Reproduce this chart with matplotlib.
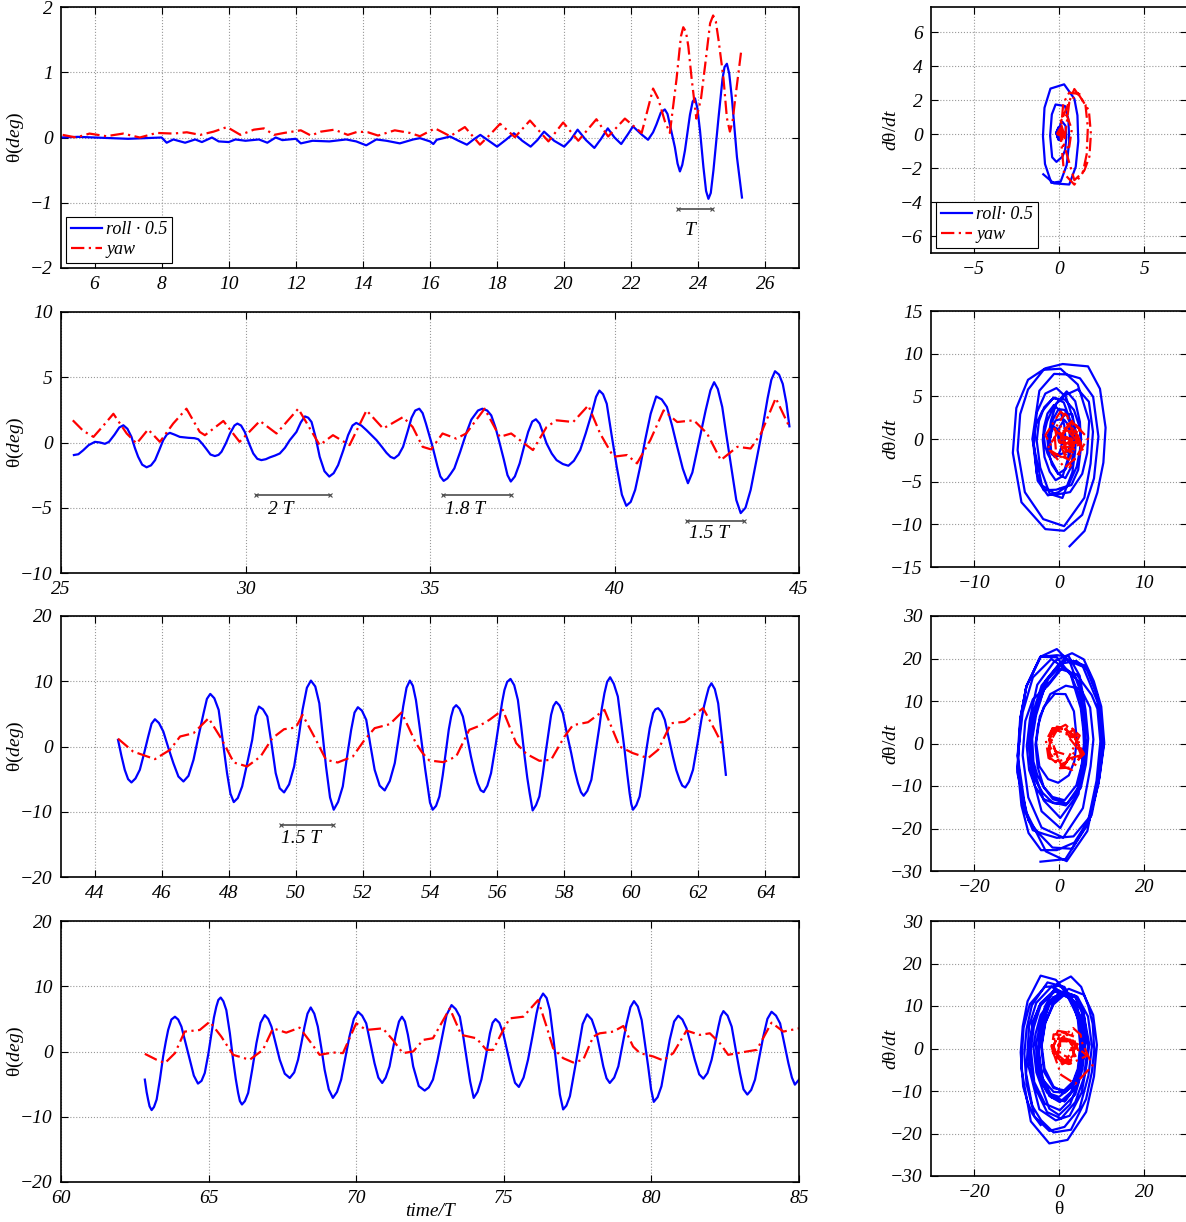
import numpy as np
import matplotlib
matplotlib.use('Agg')
import matplotlib.pyplot as plt

plt.rcParams['font.family'] = 'Liberation Serif'
plt.rcParams['font.style'] = 'italic'
plt.rcParams['font.size'] = 13
plt.rcParams['mathtext.fontset'] = 'custom'
plt.rcParams['mathtext.rm'] = 'Liberation Serif:style=normal'
plt.rcParams['mathtext.it'] = 'Liberation Serif:italic'
plt.rcParams['xtick.direction'] = 'in'
plt.rcParams['ytick.direction'] = 'in'
plt.rcParams['xtick.top'] = True
plt.rcParams['ytick.right'] = True

# ---- values: (time/T, theta in deg) ----
roll_1 = [(5.0, 0.0), (5.5, 0.01), (6.0, 0.0), (6.5, -0.01), (7.0, -0.02), (7.5, -0.01),
          (8.0, 0.0), (8.15, -0.08), (8.35, -0.03), (8.7, -0.08), (9.0, -0.03), (9.2, -0.07),
          (9.5, 0.0), (9.7, -0.06), (10.0, -0.07), (10.2, -0.03), (10.5, -0.05), (10.9, -0.03),
          (11.15, -0.08), (11.4, 0.0), (11.6, -0.04), (12.0, -0.02), (12.15, -0.09), (12.5, -0.05),
          (13.0, -0.06), (13.5, -0.03), (13.8, -0.06), (14.1, -0.12), (14.4, -0.03), (14.7, -0.05),
          (15.1, -0.09), (15.5, -0.03), (15.7, -0.01), (16.0, -0.06), (16.1, -0.1), (16.2, -0.035),
          (16.6, 0.015), (16.85, -0.05), (17.1, -0.11), (17.3, -0.03), (17.5, 0.04), (17.75, -0.05),
          (18.0, -0.14), (18.25, -0.04), (18.5, 0.065), (18.75, -0.05), (19.0, -0.14), (19.2, -0.04),
          (19.4, 0.09), (19.7, -0.05), (20.0, -0.14), (20.2, -0.03), (20.4, 0.12), (20.65, -0.04),
          (20.9, -0.16), (21.1, -0.02), (21.3, 0.14), (21.5, 0.0), (21.7, -0.1), (21.9, 0.05),
          (22.05, 0.17), (22.3, 0.05), (22.5, -0.035), (22.65, 0.08), (22.75, 0.2), (22.88, 0.38),
          (23.0, 0.43), (23.08, 0.36), (23.15, 0.2), (23.3, -0.15), (23.38, -0.4), (23.45, -0.52),
          (23.52, -0.42), (23.6, -0.2), (23.75, 0.35), (23.83, 0.55), (23.9, 0.6), (23.97, 0.45),
          (24.05, 0.1), (24.15, -0.45), (24.23, -0.82), (24.3, -0.94), (24.37, -0.85), (24.45, -0.5),
          (24.6, 0.3), (24.72, 0.9), (24.78, 1.08), (24.85, 1.13), (24.92, 0.98), (25.0, 0.6),
          (25.15, -0.3), (25.3, -0.92)]
yaw_1 = [(5.05, 0.04), (5.45, 0.0), (5.85, 0.06), (6.35, 0.02), (6.85, 0.06), (7.35, 0.0),
         (7.85, 0.07), (8.35, 0.06), (8.75, 0.08), (9.15, 0.04), (9.55, 0.09), (9.95, 0.16),
         (10.35, 0.04), (10.75, 0.12), (11.05, 0.14), (11.35, 0.04), (11.65, 0.07), (12.15, 0.11),
         (12.45, 0.03), (12.75, 0.09), (13.15, 0.12), (13.55, 0.04), (13.85, 0.09), (14.15, 0.08),
         (14.45, 0.03), (14.95, 0.11), (15.4, 0.07), (15.7, 0.02), (16.15, 0.14), (16.6, 0.02),
         (17.04, 0.16), (17.49, -0.11), (17.8, 0.05), (18.09, 0.21), (18.53, 0.005), (18.98, 0.26),
         (19.53, -0.06), (19.97, 0.23), (20.42, -0.05), (20.96, 0.28), (21.31, 0.015), (21.81, 0.29),
         (22.31, 0.07), (22.5, 0.45), (22.65, 0.75), (22.8, 0.6), (23.0, 0.25), (23.15, 0.07),
         (23.35, 0.9), (23.48, 1.55), (23.55, 1.69), (23.63, 1.62), (23.7, 1.4), (23.8, 0.9),
         (23.94, 0.29), (24.08, 0.6), (24.2, 1.1), (24.35, 1.75), (24.44, 1.87), (24.52, 1.78),
         (24.6, 1.5), (24.75, 0.9), (24.85, 0.3), (24.94, 0.09), (25.02, 0.25), (25.1, 0.6),
         (25.28, 1.34)]

roll_2 = [(25.35, -0.96), (25.47, -0.9), (25.6, -0.6), (25.75, -0.2), (25.92, 0.05), (26.06, 0.0),
          (26.19, -0.1), (26.3, 0.05), (26.45, 0.6), (26.58, 1.15), (26.69, 1.32), (26.8, 1.05),
          (26.91, 0.43), (27.0, -0.4), (27.09, -1.09), (27.2, -1.7), (27.32, -1.9), (27.44, -1.75),
          (27.55, -1.35), (27.66, -0.6), (27.77, 0.18), (27.87, 0.62), (27.95, 0.74), (28.08, 0.6),
          (28.22, 0.43), (28.45, 0.36), (28.62, 0.33), (28.72, 0.25), (28.83, -0.1), (28.94, -0.5),
          (29.05, -0.92), (29.17, -1.04), (29.27, -0.95), (29.35, -0.71), (29.47, -0.05), (29.58, 0.69),
          (29.7, 1.3), (29.78, 1.45), (29.88, 1.3), (29.98, 0.81), (30.1, -0.1), (30.21, -0.84),
          (30.32, -1.25), (30.43, -1.35), (30.55, -1.28), (30.66, -1.14), (30.8, -1.0), (30.93, -0.84),
          (31.07, -0.4), (31.2, 0.18), (31.38, 0.81), (31.5, 1.55), (31.61, 2.0), (31.7, 1.9),
          (31.79, 1.57), (31.9, 0.4), (32.01, -1.09), (32.14, -2.2), (32.27, -2.61), (32.39, -2.35),
          (32.51, -1.73), (32.65, -0.6), (32.78, 0.56), (32.9, 1.3), (33.0, 1.5), (33.14, 1.3),
          (33.28, 0.94), (33.42, 0.55), (33.55, 0.18), (33.7, -0.35), (33.82, -0.79), (33.93, -1.1),
          (34.03, -1.22), (34.15, -0.95), (34.27, -0.33), (34.4, 0.9), (34.5, 1.9), (34.6, 2.45),
          (34.71, 2.59), (34.8, 2.25), (34.89, 1.45), (34.98, 0.55), (35.07, -0.33), (35.2, -1.8),
          (35.28, -2.6), (35.37, -2.94), (35.47, -2.75), (35.56, -2.4), (35.66, -1.98), (35.82, -0.7),
          (35.98, 0.69), (36.12, 1.75), (36.3, 2.45), (36.42, 2.59), (36.55, 2.45), (36.66, 2.08),
          (36.78, 1.1), (36.89, -0.08), (37.0, -1.3), (37.1, -2.5), (37.19, -2.99), (37.3, -2.6),
          (37.43, -1.6), (37.55, -0.3), (37.66, 0.81), (37.77, 1.6), (37.87, 1.78), (37.97, 1.45),
          (38.06, 0.75), (38.16, -0.08), (38.3, -0.85), (38.43, -1.35), (38.6, -1.65), (38.75, -1.78),
          (38.9, -1.4), (39.07, -0.58), (39.22, 0.7), (39.38, 2.21), (39.5, 3.5), (39.59, 3.98),
          (39.69, 3.7), (39.79, 2.97), (39.92, 0.6), (40.06, -1.85), (40.2, -4.0), (40.32, -4.85),
          (40.44, -4.55), (40.56, -3.63), (40.7, -1.8), (40.83, 0.18), (40.98, 2.2), (41.13, 3.53),
          (41.28, 3.3), (41.42, 2.72), (41.56, 1.3), (41.7, -0.33), (41.85, -2.0), (41.99, -3.12),
          (42.11, -2.3), (42.24, -0.58), (42.35, 0.9), (42.47, 2.46), (42.6, 4.0), (42.7, 4.62),
          (42.8, 4.1), (42.92, 2.72), (43.03, 0.6), (43.15, -1.6), (43.3, -4.4), (43.42, -5.41),
          (43.55, -5.0), (43.69, -3.63), (43.83, -1.6), (43.97, 0.43), (44.15, 3.4), (44.25, 4.8),
          (44.35, 5.46), (44.46, 5.2), (44.56, 4.49), (44.66, 3.0), (44.74, 1.24)]
yaw_2 = [(25.32, 1.7), (25.6, 0.9), (25.88, 0.43), (26.15, 1.3), (26.42, 2.2), (26.78, 0.69),
         (27.05, -0.08), (27.36, 1.0), (27.68, 0.05), (28.04, 1.45), (28.4, 2.59), (28.76, 0.81),
         (28.9, 0.56), (29.4, 1.65), (29.84, 0.05), (30.39, 1.65), (30.84, 0.69), (31.43, 2.59),
         (32.01, -0.2), (32.37, 0.56), (32.82, -0.2), (33.28, 2.46), (33.73, 1.07), (34.27, 1.95),
         (34.53, 1.19), (34.8, -0.33), (35.03, -0.53), (35.34, 0.69), (35.71, 0.3), (35.98, 0.69),
         (36.48, 2.59), (36.89, 0.43), (37.2, 0.69), (37.79, -0.58), (38.16, 1.19), (38.43, 1.7),
         (38.88, 1.57), (39.29, 2.84), (39.61, 0.69), (39.97, -1.09), (40.34, -0.96), (40.61, -1.6),
         (40.97, 0.18), (41.33, 2.46), (41.7, 1.57), (42.15, 1.7), (42.51, 0.69), (42.88, -1.35),
         (43.33, -0.33), (43.69, -0.46), (43.97, 0.69), (44.37, 3.4), (44.74, 1.19)]

roll_3 = [(44.7, 1.02), (44.8, -1.4), (44.9, -3.57), (45.0, -5.0), (45.1, -5.51), (45.22, -4.9),
          (45.35, -3.57), (45.48, -1.0), (45.6, 1.53), (45.7, 3.5), (45.8, 4.18), (45.92, 3.6),
          (46.05, 2.3), (46.2, -0.2), (46.35, -2.55), (46.5, -4.6), (46.65, -5.36), (46.8, -4.5),
          (46.95, -2.04), (47.1, 1.6), (47.25, 5.1), (47.35, 7.3), (47.45, 8.06), (47.57, 7.4),
          (47.7, 5.61), (47.82, 1.0), (47.95, -4.08), (48.05, -7.2), (48.15, -8.52), (48.27, -7.9),
          (48.4, -6.12), (48.55, -2.6), (48.7, 1.02), (48.8, 4.7), (48.9, 6.12), (49.02, 5.7),
          (49.15, 4.59), (49.28, 0.3), (49.4, -4.08), (49.52, -6.4), (49.65, -7.04), (49.8, -5.8),
          (49.95, -3.06), (50.08, 1.2), (50.2, 5.61), (50.33, 9.0), (50.45, 10.1), (50.58, 9.2),
          (50.7, 6.63), (50.8, 1.8), (50.9, -3.06), (51.02, -7.8), (51.13, -9.69), (51.26, -8.5),
          (51.4, -6.12), (51.52, -1.8), (51.65, 2.55), (51.75, 5.2), (51.85, 6.02), (51.97, 5.5),
          (52.1, 4.08), (52.22, 0.3), (52.35, -3.57), (52.5, -6.0), (52.65, -6.73), (52.8, -5.3),
          (52.95, -2.55), (53.08, 1.8), (53.2, 6.12), (53.3, 9.0), (53.4, 10.1), (53.49, 9.3),
          (53.58, 7.14), (53.68, 3.4), (53.78, -0.51), (53.86, -3.6), (53.93, -6.12), (54.0, -8.6),
          (54.08, -9.69), (54.18, -9.1), (54.28, -7.65), (54.38, -4.4), (54.48, -0.51), (54.56, 2.6),
          (54.63, 4.59), (54.7, 5.9), (54.78, 6.33), (54.88, 5.8), (54.98, 4.59), (55.1, 1.6),
          (55.22, -1.53), (55.32, -3.8), (55.42, -5.61), (55.51, -6.7), (55.6, -6.99), (55.71, -6.0),
          (55.82, -4.08), (55.95, 0.0), (56.07, 4.08), (56.15, 6.8), (56.22, 8.67), (56.3, 9.9),
          (56.4, 10.36), (56.51, 9.4), (56.62, 7.14), (56.72, 3.0), (56.82, -1.53), (56.9, -4.8),
          (56.97, -7.14), (57.06, -9.8), (57.16, -9.0), (57.26, -7.65), (57.36, -4.3), (57.46, -0.51),
          (57.54, 2.3), (57.61, 4.85), (57.68, 6.2), (57.76, 6.84), (57.86, 6.3), (57.96, 5.1),
          (58.08, 2.0), (58.21, -1.02), (58.31, -3.6), (58.41, -5.61), (58.5, -7.0), (58.58, -7.55),
          (58.69, -6.8), (58.81, -5.1), (58.93, -1.0), (59.05, 3.06), (59.12, 5.8), (59.2, 8.16),
          (59.28, 9.9), (59.37, 10.61), (59.48, 9.6), (59.6, 7.65), (59.7, 3.6), (59.8, -0.51),
          (59.88, -4.2), (59.95, -7.14), (60.0, -8.8), (60.05, -9.69), (60.15, -9.0), (60.25, -7.65),
          (60.35, -4.3), (60.45, -0.51), (60.55, 2.8), (60.65, 5.1), (60.72, 5.7), (60.8, 5.87),
          (60.9, 5.3), (61.0, 4.08), (61.12, 1.3), (61.24, -1.53), (61.34, -3.6), (61.44, -5.1),
          (61.52, -6.0), (61.61, -6.28), (61.72, -5.4), (61.84, -3.57), (61.97, 0.3), (62.09, 4.08),
          (62.17, 6.2), (62.24, 7.65), (62.31, 9.0), (62.39, 9.69), (62.49, 8.8), (62.59, 6.63),
          (62.7, 1.5), (62.82, -4.34)]
yaw_3 = [(44.7, 1.2), (45.15, -0.77), (45.8, -1.94), (46.25, -0.51), (46.55, 1.53), (46.95, 2.04),
         (47.4, 4.34), (47.8, 1.02), (48.15, -2.45), (48.55, -3.06), (48.95, -1.53), (49.3, 1.28),
         (49.65, 2.65), (50.0, 2.91), (50.2, 4.85), (50.6, 1.02), (50.9, -2.04), (51.25, -2.45),
         (51.7, -1.53), (52.05, 1.02), (52.35, 2.81), (52.8, 3.42), (53.15, 5.2), (53.35, 3.06),
         (53.58, 0.5), (53.78, -1.02), (53.98, -2.14), (54.4, -2.4), (54.78, -1.53), (55.17, 2.55),
         (55.47, 3.16), (55.77, 4.08), (56.17, 5.61), (56.57, 0.51), (56.87, -1.12), (57.26, -2.19),
         (57.61, -2.04), (58.01, 1.53), (58.26, 3.27), (58.71, 3.72), (59.2, 5.61), (59.65, 0.0),
         (60.05, -1.02), (60.5, -1.79), (60.8, -0.51), (61.19, 3.57), (61.59, 3.78), (62.14, 5.87),
         (62.49, 2.55), (62.74, 0.0)]

roll_4 = [(62.84, -4.31), (62.9, -6.2), (62.95, -7.36), (63.0, -8.4), (63.07, -8.98), (63.15, -8.5),
          (63.24, -7.36), (63.35, -4.3), (63.46, -0.76), (63.55, 1.5), (63.63, 3.3), (63.74, 4.9),
          (63.86, 5.33), (63.97, 4.9), (64.08, 3.81), (64.22, 1.3), (64.36, -1.27), (64.5, -3.7),
          (64.64, -4.92), (64.76, -4.5), (64.87, -3.3), (64.99, -0.4), (65.1, 2.79), (65.18, 5.2),
          (65.26, 6.85), (65.33, 7.9), (65.41, 8.27), (65.5, 7.7), (65.6, 6.35), (65.72, 2.8),
          (65.83, -1.27), (65.92, -4.2), (66.0, -6.35), (66.06, -7.6), (66.13, -8.12), (66.23, -7.6),
          (66.34, -6.35), (66.48, -2.7), (66.62, 1.27), (66.76, 4.4), (66.9, 5.58), (67.02, 5.0),
          (67.13, 3.81), (67.27, 1.3), (67.41, -1.27), (67.58, -3.4), (67.75, -4.06), (67.9, -3.2),
          (68.03, -1.27), (68.14, 1.2), (68.25, 3.81), (68.35, 5.8), (68.46, 6.75), (68.58, 5.8),
          (68.7, 3.81), (68.82, 0.5), (68.93, -2.79), (69.07, -5.8), (69.21, -7.11), (69.35, -6.2),
          (69.49, -4.31), (69.63, -1.0), (69.77, 2.28), (69.92, 5.0), (70.06, 6.09), (70.2, 5.5),
          (70.34, 4.31), (70.48, 1.3), (70.62, -1.78), (70.75, -4.0), (70.88, -4.82), (71.0, -4.0),
          (71.13, -2.28), (71.24, 0.3), (71.35, 2.79), (71.45, 4.6), (71.55, 5.33), (71.65, 4.6),
          (71.75, 2.6), (71.85, 0.0), (71.93, -2.28), (72.12, -5.3), (72.32, -5.99), (72.46, -5.5),
          (72.6, -4.31), (72.75, -1.4), (72.89, 1.78), (73.06, 5.6), (73.23, 7.11), (73.37, 6.5),
          (73.51, 5.33), (73.62, 2.5), (73.73, -0.76), (73.86, -4.6), (73.98, -7.11), (74.11, -6.2),
          (74.24, -4.31), (74.39, -0.8), (74.53, 2.79), (74.62, 4.4), (74.72, 4.97), (74.85, 4.4),
          (74.98, 2.79), (75.12, 0.0), (75.26, -2.79), (75.38, -4.8), (75.51, -5.43), (75.67, -4.0),
          (75.82, -1.27), (75.97, 2.3), (76.11, 5.84), (76.22, 8.0), (76.33, 8.88), (76.45, 8.2),
          (76.56, 6.35), (76.68, 2.0), (76.79, -2.28), (76.9, -6.6), (77.01, -8.88), (77.12, -8.3),
          (77.24, -6.85), (77.38, -3.3), (77.52, 0.25), (77.67, 4.2), (77.82, 5.69), (77.98, 4.9),
          (78.14, 2.79), (78.26, 0.2), (78.37, -2.28), (78.48, -4.1), (78.59, -4.82), (78.74, -4.0),
          (78.88, -2.28), (79.02, 1.0), (79.16, 4.31), (79.29, 6.8), (79.41, 7.72), (79.54, 6.9),
          (79.67, 4.82), (79.78, 1.3), (79.89, -2.28), (79.99, -5.8), (80.08, -7.72), (80.21, -7.0),
          (80.34, -5.33), (80.48, -1.8), (80.62, 1.78), (80.77, 4.6), (80.91, 5.48), (81.05, 4.9),
          (81.19, 3.55), (81.33, 1.2), (81.47, -1.27), (81.62, -3.5), (81.76, -4.16), (81.9, -3.3),
          (82.04, -1.27), (82.16, 1.3), (82.27, 3.81), (82.35, 5.4), (82.44, 6.19), (82.58, 5.5),
          (82.72, 3.81), (82.86, 0.2), (83.0, -3.3), (83.12, -5.8), (83.25, -6.6), (83.38, -5.9),
          (83.51, -4.31), (83.65, -1.0), (83.79, 2.28), (83.93, 5.0), (84.07, 6.09), (84.22, 5.5),
          (84.36, 4.31), (84.5, 1.3), (84.64, -1.78), (84.76, -4.0), (84.86, -5.08), (85.0, -4.31)]
yaw_4 = [(62.84, -0.36), (63.24, -1.27), (63.52, -1.78), (63.86, -0.25), (64.19, 3.05), (64.7, 3.3),
         (65.04, 4.57), (65.43, 2.28), (65.83, -0.51), (66.39, -1.27), (66.84, 0.25), (67.18, 3.55),
         (67.63, 2.89), (68.08, 3.65), (68.48, 1.27), (68.76, -0.51), (69.21, -0.15), (69.55, -0.25),
         (70.0, 4.31), (70.34, 3.3), (70.9, 3.55), (71.24, 1.78), (71.58, -0.25), (71.93, 0.0),
         (72.27, 1.78), (72.6, 2.03), (73.17, 6.6), (73.56, 2.54), (74.07, 2.03), (74.41, 0.25),
         (74.64, 0.25), (74.98, 3.3), (75.2, 5.08), (75.66, 5.33), (76.16, 7.87), (76.45, 3.81),
         (76.67, 0.51), (77.01, -1.02), (77.35, -1.68), (77.69, -1.27), (78.03, 2.28), (78.25, 2.79),
         (78.71, 3.05), (79.05, 3.91), (79.38, 0.76), (79.61, -0.25), (80.06, -0.76), (80.4, -1.37),
         (80.74, -0.25), (81.19, 3.2), (81.64, 2.54), (81.98, 2.79), (82.32, 1.27), (82.6, -0.51),
         (83.23, 0.0), (83.57, 0.25), (84.07, 4.42), (84.47, 3.05), (85.0, 3.55)]

roll_rows = [roll_1, roll_2, roll_3, roll_4]
yaw_rows = [yaw_1, yaw_2, yaw_3, yaw_4]

# time unit of the phase plots (s per T)
T_SEC = 1.75

# axis setup per row
time_xlim = [(5, 27), (25, 45), (43, 65), (60, 85)]
time_xticks = [range(6, 27, 2), range(25, 46, 5), range(44, 65, 2), range(60, 86, 5)]
time_ylim = [(-2, 2), (-10, 10), (-20, 20), (-20, 20)]
time_yticks = [range(-2, 3), range(-10, 11, 5), range(-20, 21, 10), range(-20, 21, 10)]
phase_xlim = [(-7.5, 7.5), (-15, 15), (-30, 30), (-30, 30)]
phase_xticks = [(-5, 0, 5), (-10, 0, 10), (-20, 0, 20), (-20, 0, 20)]
phase_ylim = [(-7, 7.5), (-15, 15), (-30, 30), (-30, 30)]
phase_yticks = [range(-6, 7, 2), range(-15, 16, 5), range(-30, 31, 10), range(-30, 31, 10)]

# period markers: (row, x0, x1, y, label, label x, label y)
markers = [(0, 23.4, 24.42, -1.1, 'T', 23.75, -1.42),
           (1, 30.28, 32.3, -4.0, '2 T', 30.95, -5.1),
           (1, 35.35, 37.2, -4.0, '1.8 T', 35.95, -5.1),
           (1, 41.97, 43.5, -6.0, '1.5 T', 42.55, -7.0),
           (2, 49.56, 51.1, -12.0, '1.5 T', 50.15, -14.1)]

W, H = 1186, 1222
left_box = [(7, 268), (312, 573), (616, 877), (921, 1182)]
right_box = [(7, 253), (311, 567), (616, 871), (921, 1176)]

fig = plt.figure(figsize=(W / 100, H / 100), dpi=100)

YAW_DASH = (6, 2, 1, 2)
grid_kw = dict(linestyle=':', color='0.6', linewidth=0.8)
leg_kw = dict(loc='lower left', fancybox=False, edgecolor='k', framealpha=1,
              fontsize=13, handlelength=1.7, borderaxespad=0.3, borderpad=0.25,
              labelspacing=0.15, handletextpad=0.25)


def style_axes(ax):
    ax.set_axisbelow(True)
    ax.grid(True, **grid_kw)
    ax.tick_params(length=5, width=0.8, pad=6, labelsize=14)
    for s in ax.spines.values():
        s.set_linewidth(1.2)


for i in range(4):
    top, bot = left_box[i]
    ax = fig.add_axes([61 / W, 1 - bot / H, (799 - 61) / W, (bot - top) / H])
    rt, rv = np.array(roll_rows[i]).T
    yt, yv = np.array(yaw_rows[i]).T
    ax.plot(rt, rv, color='b', lw=1.6, label='roll \u00b7 0.5')
    ax.plot(yt, yv, color='r', lw=1.6, dashes=YAW_DASH, label='yaw')
    ax.set_xlim(*time_xlim[i])
    ax.set_ylim(*time_ylim[i])
    ax.set_xticks(list(time_xticks[i]))
    ax.set_yticks(list(time_yticks[i]))
    style_axes(ax)
    ax.set_ylabel(r'$\mathrm{\theta}\mathit{(deg)}$', fontsize=14)
    ax.yaxis.set_label_coords(-0.048, 0.5)
    for row, x0, x1, y, lab, lx, ly in markers:
        if row == i:
            ax.plot([x0, x1], [y, y], color='0.3', lw=1.2, marker='x', ms=3, mew=0.8)
            ax.text(lx, ly, lab, fontsize=14, ha='center', va='center')
    if i == 0:
        ax.legend(**leg_kw).get_frame().set_linewidth(0.8)
    if i == 3:
        ax.set_xlabel('time/T', fontsize=14)
        ax.xaxis.set_label_coords(0.5, -0.08)

    # phase plane
    top, bot = right_box[i]
    px = fig.add_axes([931 / W, 1 - bot / H, 256 / W, (bot - top) / H])
    px.plot(rv, np.gradient(rv, rt) / T_SEC, color='b', lw=1.6, label='roll\u00b7 0.5')
    px.plot(yv, np.gradient(yv, yt) / T_SEC, color='r', lw=1.6, dashes=YAW_DASH, label='yaw')
    px.set_xlim(*phase_xlim[i])
    px.set_ylim(*phase_ylim[i])
    px.set_xticks(list(phase_xticks[i]))
    px.set_yticks(list(phase_yticks[i]))
    style_axes(px)
    px.set_ylabel(r'$\mathit{d}\mathrm{\theta}\mathit{/dt}$', fontsize=14)
    px.yaxis.set_label_coords(-0.12, 0.5)
    if i == 0:
        px.legend(**leg_kw).get_frame().set_linewidth(0.8)
    if i == 3:
        px.set_xlabel('\u03b8', fontsize=14, fontstyle='normal', labelpad=0)

fig.savefig('out.png', dpi=100)
